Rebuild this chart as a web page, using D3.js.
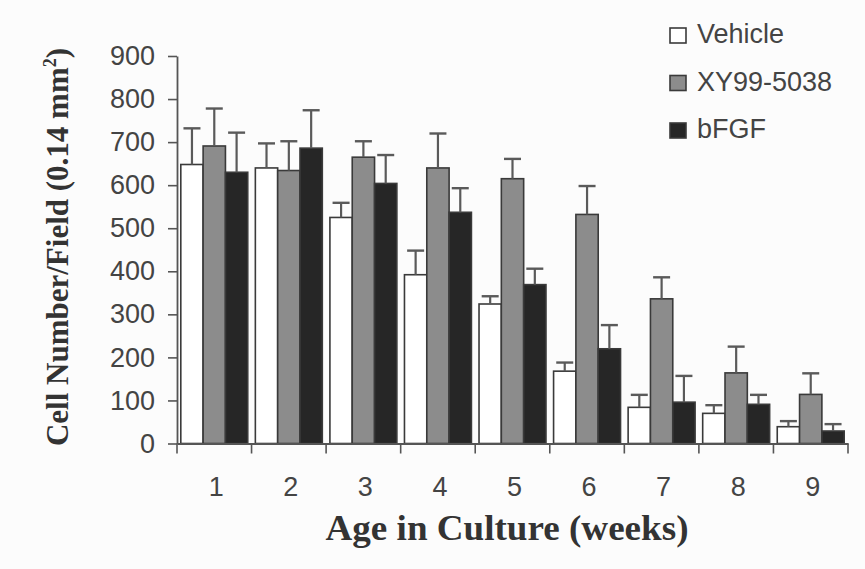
<!DOCTYPE html>
<html>
<head>
<meta charset="utf-8">
<script src="https://cdn.jsdelivr.net/npm/d3@7"></script>
<style>
  html, body { margin: 0; padding: 0; background: #fcfcfc; }
  svg { display: block; }
</style>
</head>
<body>
<svg id="chart" width="865" height="569"></svg>
<script>
// ---- Data ----
const weeks = ["1", "2", "3", "4", "5", "6", "7", "8", "9"];
const seriesNames = ["Vehicle", "XY99-5038", "bFGF"];
const vehicle     = [648, 640, 525, 392, 324, 168, 84, 70, 39];
const vehicleErr  = [84, 57, 34, 56, 18, 20, 29, 19, 13];
const xy995038    = [691, 634, 665, 640, 615, 532, 336, 164, 114];
const xy995038Err = [87, 68, 37, 80, 46, 66, 50, 61, 49];
const bfgf        = [630, 686, 604, 537, 369, 220, 96, 91, 29];
const bfgfErr     = [92, 88, 66, 56, 37, 55, 61, 22, 16];
const yTicks      = [0, 100, 200, 300, 400, 500, 600, 700, 800, 900];

const values = [vehicle, xy995038, bfgf];
const errors = [vehicleErr, xy995038Err, bfgfErr];
const fills  = ["#ffffff", "#8c8c8c", "#262626"];

const rows = [];
weeks.forEach((w, i) => {
  seriesNames.forEach((s, j) => {
    rows.push({ week: w, series: s, value: values[j][i], err: errors[j][i], fill: fills[j] });
  });
});

// ---- Layout ----
const svg = d3.select("#chart");
const plotLeft = 177, plotRight = 848, plotTop = 56, plotBottom = 443.5;

const x = d3.scaleBand().domain(weeks).range([plotLeft, plotRight]).paddingInner(0).paddingOuter(0);
const xs = d3.scaleBand().domain(seriesNames).range([3.8, x.bandwidth() - 3.8]).padding(0);
const y = d3.scaleLinear().domain([0, 900]).range([plotBottom, plotTop]);

const axisColor = "#555";

// Bars
const g = svg.append("g");
g.selectAll("rect.bar")
  .data(rows)
  .join("rect")
  .attr("class", "bar")
  .attr("x", d => x(d.week) + xs(d.series))
  .attr("y", d => y(d.value))
  .attr("width", xs.bandwidth())
  .attr("height", d => y(0) - y(d.value))
  .attr("fill", d => d.fill)
  .attr("stroke", "#3a3a3a")
  .attr("stroke-width", 1.6);

// Error bars (upper only)
const capW = 17;
const eb = g.selectAll("g.err").data(rows).join("g").attr("class", "err");
eb.append("line")
  .attr("x1", d => x(d.week) + xs(d.series) + xs.bandwidth() / 2)
  .attr("x2", d => x(d.week) + xs(d.series) + xs.bandwidth() / 2)
  .attr("y1", d => y(d.value))
  .attr("y2", d => y(d.value + d.err))
  .attr("stroke", "#5a5a5a").attr("stroke-width", 2.2);
eb.append("line")
  .attr("x1", d => x(d.week) + xs(d.series) + xs.bandwidth() / 2 - capW / 2)
  .attr("x2", d => x(d.week) + xs(d.series) + xs.bandwidth() / 2 + capW / 2)
  .attr("y1", d => y(d.value + d.err))
  .attr("y2", d => y(d.value + d.err))
  .attr("stroke", "#5a5a5a").attr("stroke-width", 2.4);

// Y axis
const yAxis = svg.append("g")
  .attr("transform", `translate(${plotLeft},0)`)
  .call(d3.axisLeft(y).tickValues(yTicks).tickSize(9).tickSizeOuter(0).tickPadding(13));
yAxis.select(".domain").attr("stroke", axisColor).attr("stroke-width", 1.8);
yAxis.selectAll(".tick line").attr("stroke", axisColor).attr("stroke-width", 1.6);
yAxis.selectAll(".tick text")
  .attr("font-family", "Liberation Sans, Arial, sans-serif")
  .attr("font-size", 27).attr("fill", "#444");

// X axis (labels at band centres, ticks at band boundaries)
const xAxis = svg.append("g")
  .attr("transform", `translate(0,${plotBottom})`)
  .call(d3.axisBottom(x).tickSize(0).tickPadding(33).tickSizeOuter(0));
xAxis.select(".domain").attr("stroke", axisColor).attr("stroke-width", 1.8);
xAxis.selectAll(".tick text")
  .attr("font-family", "Liberation Sans, Arial, sans-serif")
  .attr("font-size", 27).attr("fill", "#444")
  .attr("dx", 2);
const boundaries = weeks.map(w => x(w)).concat([x(weeks[weeks.length - 1]) + x.bandwidth()]);
xAxis.selectAll("line.bt").data(boundaries).join("line")
  .attr("class", "bt")
  .attr("x1", d => d).attr("x2", d => d)
  .attr("y1", 0).attr("y2", 10)
  .attr("stroke", axisColor).attr("stroke-width", 1.6);

// Axis titles
svg.append("text")
  .attr("x", 507).attr("y", 540)
  .attr("text-anchor", "middle")
  .attr("font-family", "Liberation Serif, Times New Roman, serif")
  .attr("font-weight", "bold").attr("font-size", 35).attr("fill", "#333")
  .attr("textLength", 363).attr("lengthAdjust", "spacingAndGlyphs")
  .text("Age in Culture (weeks)");

const yt = svg.append("text")
  .attr("transform", "translate(68,247) rotate(-90)")
  .attr("text-anchor", "middle")
  .attr("font-family", "Liberation Serif, Times New Roman, serif")
  .attr("font-weight", "bold").attr("font-size", 31).attr("fill", "#333");
yt.append("tspan").text("Cell Number/Field (0.14 mm");
yt.append("tspan").attr("font-size", 18).attr("dy", -12).text("2");
yt.append("tspan").attr("dy", 12).text(")");

// Legend
const legend = svg.append("g");
const lg = legend.selectAll("g").data(seriesNames).join("g")
  .attr("transform", (d, i) => `translate(670,${28 + i * 47.5})`);
lg.append("rect")
  .attr("width", 16).attr("height", 15)
  .attr("fill", (d, i) => fills[i])
  .attr("stroke", "#3a3a3a").attr("stroke-width", 1.6);
lg.append("text")
  .attr("x", 27).attr("y", 15)
  .attr("font-family", "Liberation Sans, Arial, sans-serif")
  .attr("font-size", 27).attr("fill", "#444")
  .text(d => d);
</script>
</body>
</html>
